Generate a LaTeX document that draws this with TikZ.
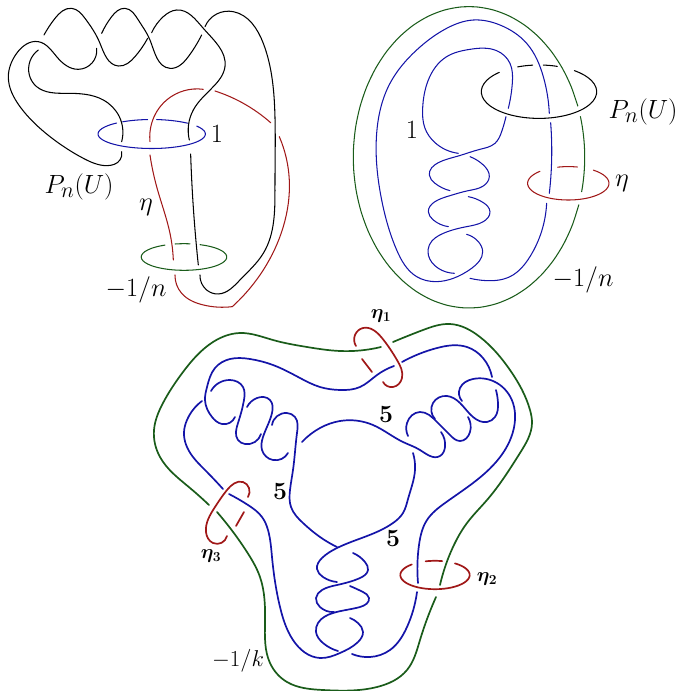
\documentclass[tikz,border=0pt]{standalone}
\usepackage{tikz}
\usepackage{xcolor}
\usetikzlibrary{hobby}
\definecolor{knotblue}{HTML}{1414A8}
\definecolor{knotred}{HTML}{A01818}
\definecolor{knotgreen}{HTML}{1A5C1A}
\newcommand{\ringarc}[6]{plot[domain=#5:#6, samples=40, smooth] ({#1+#3*cos(\x)}, {#2+#4*sin(\x)})}
\tikzset{
        thin_line/.style={line width=1.05pt, line cap=round},
        thick_line/.style={line width=1.7pt, line cap=round},
        leg_big/.style={font=\fontsize{24.88}{30}\selectfont, inner sep=0pt, scale=1.06, transform shape},
        leg_mid/.style={font=\fontsize{24.88}{30}\selectfont, inner sep=0pt, scale=0.92, transform shape},
        leg_bold/.style={font=\fontsize{17.28}{21}\selectfont\boldmath, inner sep=0pt, scale=1.15, transform shape},
        leg_five/.style={leg_bold, scale=1.25}
    }

\begin{document}
\begin{tikzpicture}[x=1pt, y=-1pt]
    \useasboundingbox (0,0) rectangle (678,691);
    % left picture
    \begin{scope}[x=0.3333pt, y=-0.3333pt, thin_line]
        \draw[black] plot[hobby] coordinates {(132,105) (165,55) (215,25) (255,55) (300,130) (355,198) (405,170) (443,115)};
        \draw[black] plot[hobby] coordinates {(115,150) (88,225) (110,260) (200,280) (310,300) (358,350) (365,425)};
        \draw[black] plot[hobby] coordinates {(365,455) (360,480) (320,497) (250,475) (150,410) (60,320) (25,230) (50,160) (115,125) (170,170) (235,208) (290,145)};
        \draw[black] plot[hobby] coordinates {(305,100) (335,50) (375,25) (415,60) (450,120) (510,205) (565,170) (605,105)};
        \draw[black] plot[hobby] coordinates {(455,98) (490,50) (530,30) (610,85) (675,200) (640,260) (580,330) (568,420)};
        \draw[black] plot[hobby] coordinates {(572,462) (582,650) (595,795)};
        \draw[black] plot[hobby] coordinates {(600,825) (620,870) (655,882) (720,840) (790,760) (825,560) (825,350) (790,130) (700,35) (650,42) (615,80)};
        \draw[knotred] plot[hobby] coordinates {(450,425) (455,370) (500,300) (610,268)};
        \draw[knotred] plot[hobby] coordinates {(645,273) (730,310) (812,368)};
        \draw[knotred] plot[hobby] coordinates {(838,410) (868,540) (850,680) (790,810) (697,920)};
        \draw[knotred] plot[hobby] coordinates {(697,920) (610,915) (545,880) (525,825)};
        \draw[knotred] plot[hobby] coordinates {(520,780) (510,700) (470,560) (450,465)};
    \end{scope}
    \draw[knotblue, thin_line] \ringarc{151.7}{134}{53.7}{14.5}{327}{589.3};
    \draw[knotblue, thin_line] \ringarc{151.7}{134}{53.7}{14.5}{237.3}{265.7};
    \draw[knotblue, thin_line] \ringarc{151.7}{134}{53.7}{14.5}{275.3}{312};
    \draw[knotgreen, thin_line] \ringarc{184}{257}{42.8}{13.3}{292}{603.6};
    \draw[knotgreen, thin_line] \ringarc{184}{257}{42.8}{13.3}{257.9}{278.1};
    \node[leg_big] (one_a) at (217,134) {$1$};
    \node[leg_big] (pn_a) at (79,187) {$P_n(U)$};
    \node[leg_big] (eta_a) at (146,207) {$\eta$};
    \node[leg_big] (frac_a) at (136,290) {$-1/n$};
    % right picture
    \draw[knotgreen, thin_line] \ringarc{469}{157.3}{115.7}{150.7}{-15.7}{13.2};
    \draw[knotgreen, thin_line] \ringarc{469}{157.3}{115.7}{150.7}{18.4}{340.1};
    \begin{scope}[xshift=340pt, x=0.3333pt, y=-0.3333pt, thin_line]
        \draw[knotblue] plot[hobby] coordinates {(390,835) (440,842) (510,830) (570,770) (620,610)};
        \draw[knotblue] plot[hobby] coordinates {(628,580) (635,480) (632,368)};
        \draw[knotblue] plot[hobby] coordinates {(628,340) (610,230) (560,130) (480,75) (400,60) (320,85) (230,150) (150,250) (110,400) (125,600) (170,750) (230,830) (290,845) (340,835) (395,805) (428,755) (415,725) (380,703)};
        \draw[knotblue] plot[hobby] coordinates {(325,680) (280,660) (265,635) (285,605) (330,587) (385,572) (430,558) (448,530) (430,495) (390,470)};
        \draw[knotblue] plot[hobby] coordinates {(355,460) (285,428) (255,385) (248,325) (265,240) (320,170) (390,148) (470,152) (510,190) (517,250) (505,325)};
        \draw[knotblue] plot[hobby] coordinates {(498,350) (485,395) (465,430) (420,448) (355,468) (295,488) (268,525) (285,550) (330,572)};
        \draw[knotblue] plot[hobby] coordinates {(385,590) (430,608) (450,635) (430,665) (380,680) (310,700) (268,735) (265,765) (295,805) (343,820)};
    \end{scope}
    \draw[black, thin_line] \ringarc{539}{91.7}{57.7}{26.7}{307.8}{586.5};
    \draw[black, thin_line] \ringarc{539}{91.7}{57.7}{26.7}{248.3}{263.7};
    \draw[black, thin_line] \ringarc{539}{91.7}{57.7}{26.7}{274.3}{288.5};
    \draw[knotred, thin_line] \ringarc{568.3}{183.3}{40.7}{16.7}{308}{585.8};
    \draw[knotred, thin_line] \ringarc{568.3}{183.3}{40.7}{16.7}{254.8}{282.8};
    \node[leg_big] (one_b) at (412,130) {$1$};
    \node[leg_big] (pn_b) at (643,112) {$P_n(U)$};
    \node[leg_big] (eta_b) at (622,183) {$\eta$};
    \node[leg_big] (frac_b) at (583,280) {$-1/n$};
    % bottom picture
    \begin{scope}[thick_line]
        \draw[knotgreen] plot[hobby] coordinates {(393,342) (423,330) (450,324) (480,337) (510,370) (530,410) (532,423) (520,453) (487,500) (467,523) (453,547) (440,585)};
        \draw[knotgreen] plot[hobby] coordinates {(436,597) (420,640) (407,670) (377,687) (323,690) (287,682) (270,663) (265,623) (260,577) (247,552) (217,512)};
        \draw[knotgreen] plot[hobby] coordinates {(209,505) (190,488) (160,457) (154,430) (163,403) (183,372) (213,342) (240,333) (273,340) (307,347) (340,351) (381,347)};
        \draw[knotblue] plot[hobby] coordinates {(235,417) (222,424) (212,417) (205,400) (207,387) (215,368) (230,359) (250,359) (273,365) (300,378) (320,387) (340,390) (360,387) (377,375) (394,366)};
        \draw[knotblue] plot[hobby] coordinates {(402,362) (437,348) (467,347) (483,358) (492,377)};
        \draw[knotblue] plot[hobby] coordinates {(496,390) (498,403) (495,417) (487,422) (473,417) (460,403) (447,396) (433,403) (435,419)};
        \draw[knotblue] plot[hobby] coordinates {(441,432) (445,447) (440,456) (420,450) (403,442) (373,425) (340,421) (320,428) (302,442)};
        \draw[knotblue] plot[hobby] coordinates {(288,453) (273,460) (262,450) (263,437) (272,413) (270,400) (257,398) (247,407)};
        \draw[knotblue] plot[hobby] coordinates {(261,434) (245,444) (238,440) (238,423) (244,400) (243,387) (230,380) (211,391)};
        \draw[knotblue] plot[hobby] coordinates {(272,425) (287,413) (295,417) (297,433) (293,470) (290,490) (291,507) (303,523) (320,537) (337,547)};
        \draw[knotblue] plot[hobby] coordinates {(202,401) (187,420) (184,432) (193,457) (205,470) (223,489)};
        \draw[knotblue] plot[hobby] coordinates {(229,494) (248,505) (262,517) (268,530) (272,557) (280,607) (293,640) (320,658) (340,653) (358,642) (363,632) (358,623) (350,618)};
        \draw[knotblue] plot[hobby] coordinates {(413,453) (415,470) (408,499) (403,513) (393,523) (367,536) (337,548) (322,558) (317,569) (323,577) (337,582)};
        \draw[knotblue] plot[hobby] coordinates {(408,436) (407,423) (420,412) (437,422) (450,435) (460,441) (470,432) (468,417)};
        \draw[knotblue] plot[hobby] coordinates {(462,401) (460,388) (473,379) (497,383) (513,403) (515,420) (503,453) (473,483) (445,503) (427,520) (419,545) (418,583)};
        \draw[knotblue] plot[hobby] coordinates {(417,592) (407,627) (390,650) (370,657) (352,654)};
        \draw[knotblue] plot[hobby] coordinates {(353,553) (365,562) (368,570) (360,578) (337,585) (322,590) (316,598) (320,607) (334,612)};
        \draw[knotblue] plot[hobby] coordinates {(350,586) (363,592) (369,598) (360,607) (333,613) (318,623) (316,632) (323,643) (338,651)};
        \draw[knotred] plot[hobby] coordinates {(383,382) (393,387) (402,378) (397,360) (382,338) (363,328) (355,335) (356,346)};
        \draw[knotred] plot[hobby] coordinates {(362,359) (372,372)};
        \draw[knotred] plot[hobby] coordinates {(227,536) (213,543) (206,532) (215,507) (227,490) (243,482) (249,488) (248,497)};
        \draw[knotred] plot[hobby] coordinates {(244,512) (236,526)};
        \draw[knotred] \ringarc{435}{575}{34.7}{14.2}{305}{588};
        \draw[knotred] \ringarc{435}{575}{34.7}{14.2}{254.4}{282};
    \end{scope}
    \node[leg_bold] (eta_one) at (381,316) {$\eta_1$};
    \node[leg_bold] (eta_two) at (487,579) {$\eta_2$};
    \node[leg_bold] (eta_three) at (211,556) {$\eta_3$};
    \node[leg_five] (five_a) at (386,414) {$5$};
    \node[leg_five] (five_b) at (280,491) {$5$};
    \node[leg_five] (five_c) at (393,538) {$5$};
    \node[leg_mid] (frac_c) at (238,661) {$-1/k$};
\end{tikzpicture}
\end{document}
